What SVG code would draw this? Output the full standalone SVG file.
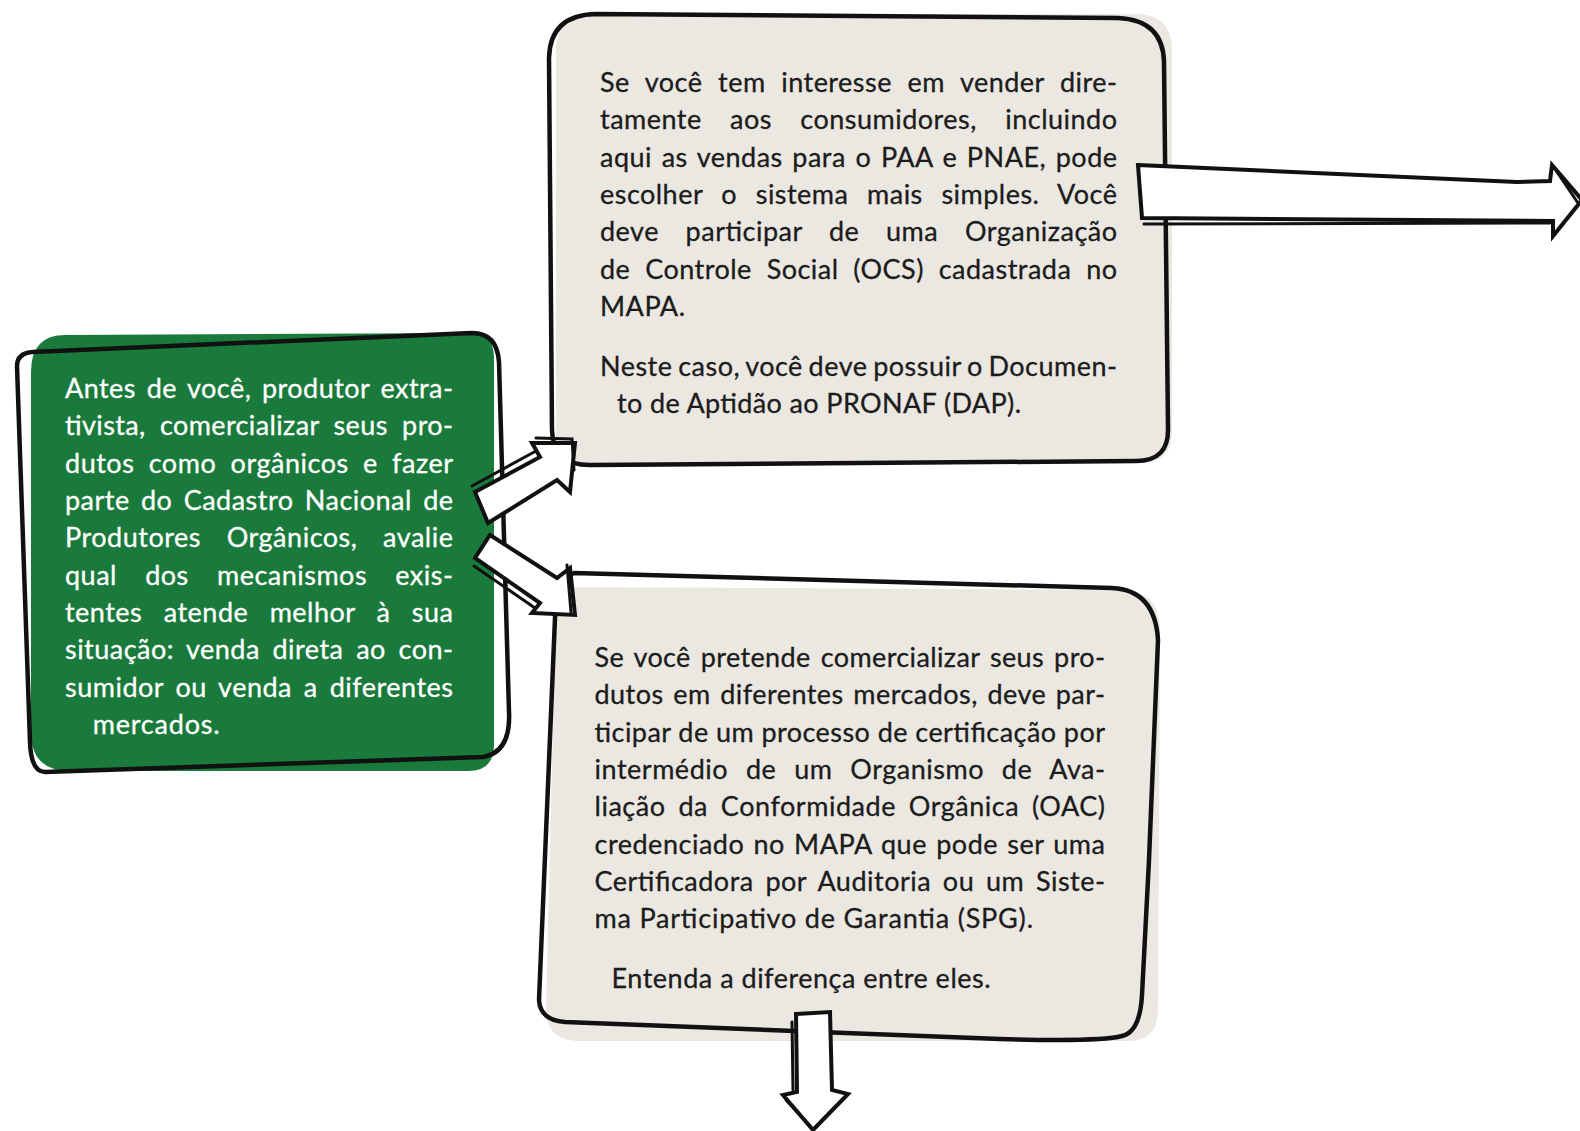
<svg xmlns="http://www.w3.org/2000/svg" width="1580" height="1131" viewBox="0 0 1580 1131">
<style>
.t{font-family:Lato,"Liberation Sans",sans-serif;font-size:27px;fill:#1c1c1c;stroke:#1c1c1c;stroke-width:0.3}
.w{fill:#ffffff;stroke:#ffffff}
.ol{fill:none;stroke:#111;stroke-width:4.5;stroke-linejoin:round;stroke-linecap:round}
.arr{fill:#fff;stroke:#111;stroke-width:4;stroke-linejoin:miter}
.dbl{fill:none;stroke:#111;stroke-width:3;stroke-linecap:round}
</style>
<rect width="1580" height="1131" fill="#fff"/>
<g id="node-intro">
<path d="M65,335 L470,333 Q494,333 494,358 L494,745 Q494,771 468,771 L70,771 Q31,771 31,732 L31,372 Q31,335 65,335 Z" fill="#1a7a3c"/>
<path class="ol" d="M33,352 L472,333 Q497,333 499,362 L509,712 Q511,752 483,757 L45,772 Q31,772 30,742 L17,366 Q17,353 33,352 Z"/>
<text class="t w"><tspan x="65" y="398" word-spacing="3.4" textLength="388" lengthAdjust="spacing">Antes de você, produtor extra-</tspan><tspan x="65" y="435.4" word-spacing="7.1" textLength="388" lengthAdjust="spacing">tivista, comercializar seus pro-</tspan><tspan x="65" y="472.7" word-spacing="6.9" textLength="388" lengthAdjust="spacing">dutos como orgânicos e fazer</tspan><tspan x="65" y="510" word-spacing="3.9" textLength="388" lengthAdjust="spacing">parte do Cadastro Nacional de</tspan><tspan x="65" y="547.4" word-spacing="18.2" textLength="388" lengthAdjust="spacing">Produtores Orgânicos, avalie</tspan><tspan x="65" y="584.7" word-spacing="20.8" textLength="388" lengthAdjust="spacing">qual dos mecanismos exis-</tspan><tspan x="65" y="622" word-spacing="14" textLength="388" lengthAdjust="spacing">tentes atende melhor à sua</tspan><tspan x="65" y="659.4" word-spacing="5.3" textLength="388" lengthAdjust="spacing">situação: venda direta ao con-</tspan><tspan x="65" y="696.7" word-spacing="4.5" textLength="388" lengthAdjust="spacing">sumidor ou venda a diferentes</tspan><tspan x="92.7" y="734" textLength="127" lengthAdjust="spacing">mercados.</tspan></text>
</g>
<g id="node-ocs">
<path d="M556,50 Q556,14 600,14 L1135,14 Q1172,14 1172,50 L1172,432 Q1172,463 1140,463 L585,463 Q556,463 556,438 Z" fill="#ebe7e1"/>
<path class="ol" d="M549,58 Q550,15 596,14 L1118,18 Q1163,20 1164,62 L1168,428 Q1169,461 1136,461 L592,465 Q553,466 552,430 Z"/>
<text class="t"><tspan x="600" y="92" word-spacing="8.3" textLength="517" lengthAdjust="spacing">Se você tem interesse em vender dire-</tspan><tspan x="600" y="129.3" word-spacing="21" textLength="517" lengthAdjust="spacing">tamente aos consumidores, incluindo</tspan><tspan x="600" y="166.6" word-spacing="2.2" textLength="517" lengthAdjust="spacing">aqui as vendas para o PAA e PNAE, pode</tspan><tspan x="600" y="203.9" word-spacing="11.3" textLength="517" lengthAdjust="spacing">escolher o sistema mais simples. Você</tspan><tspan x="600" y="241.2" word-spacing="19.3" textLength="517" lengthAdjust="spacing">deve participar de uma Organização</tspan><tspan x="600" y="278.5" word-spacing="7.4" textLength="517" lengthAdjust="spacing">de Controle Social (OCS) cadastrada no</tspan><tspan x="600" y="315.8" textLength="85" lengthAdjust="spacing">MAPA.</tspan><tspan x="600" y="376" word-spacing="-1.6" textLength="517" lengthAdjust="spacing">Neste caso, você deve possuir o Documen-</tspan><tspan x="617" y="413" textLength="404" lengthAdjust="spacing">to de Aptidão ao PRONAF (DAP).</tspan></text>
</g>
<g id="node-oac">
<path d="M556,600 Q556,587 576,587 L1125,590 Q1160,592 1160,630 L1158,1010 Q1158,1041 1128,1041 L580,1041 Q546,1041 546,1010 Z" fill="#ebe7e1"/>
<path class="ol" d="M574,573 L1112,588 Q1155,590 1158,640 L1149,860 L1142,995 Q1140,1032 1122,1036 Q1100,1042 1000,1039 L565,1022 Q540,1020 539,1000 L555,618 Q556,580 574,573 Z"/>
<text class="t"><tspan x="594.5" y="667" word-spacing="2.7" textLength="510.5" lengthAdjust="spacing">Se você pretende comercializar seus pro-</tspan><tspan x="594.5" y="704.3" word-spacing="2.2" textLength="510.5" lengthAdjust="spacing">dutos em diferentes mercados, deve par-</tspan><tspan x="594.5" y="741.6" textLength="510.5" lengthAdjust="spacing">ticipar de um processo de certificação por</tspan><tspan x="594.5" y="779" word-spacing="10.4" textLength="510.5" lengthAdjust="spacing">intermédio de um Organismo de Ava-</tspan><tspan x="594.5" y="816.3" word-spacing="5.4" textLength="510.5" lengthAdjust="spacing">liação da Conformidade Orgânica (OAC)</tspan><tspan x="594.5" y="853.6" word-spacing="1.8" textLength="510.5" lengthAdjust="spacing">credenciado no MAPA que pode ser uma</tspan><tspan x="594.5" y="891" word-spacing="4.3" textLength="510.5" lengthAdjust="spacing">Certificadora por Auditoria ou um Siste-</tspan><tspan x="594.5" y="928.3" textLength="438.5" lengthAdjust="spacing">ma Participativo de Garantia (SPG).</tspan><tspan x="611.6" y="988" textLength="379" lengthAdjust="spacing">Entenda a diferença entre eles.</tspan></text>
</g>
<g id="connectors">
<path class="arr" d="M1138,165 L1517,182 L1550,181 L1552,165 L1582,200 L1553,236 L1553,221 L1142,218 Z"/>
<path class="dbl" d="M1144,224 L1550,223"/>
<path class="dbl" d="M1557,172 L1578,203"/>
<path class="arr" d="M475,492 L488,523 L557,480 L570,492 L575,443 L532,443 L540,457 Z"/>
<path class="dbl" d="M472,486 L536,451"/>
<path class="dbl" d="M536,438 L572,439 L574,470"/>
<path class="arr" d="M490,535 L557,578 L570,568 L575,615 L532,613 L540,603 L475,558 Z"/>
<path class="dbl" d="M474,566 L535,608"/>
<path class="dbl" d="M567,565 L571,612"/>
<path class="arr" d="M796,1014 L830,1012 L832,1090 L848,1094 L813,1130 L783,1095 L797,1092 Z"/>
<path class="dbl" d="M792,1022 L793,1090"/>
<path class="dbl" d="M786,1100 L810,1126"/>
</g>
</svg>
